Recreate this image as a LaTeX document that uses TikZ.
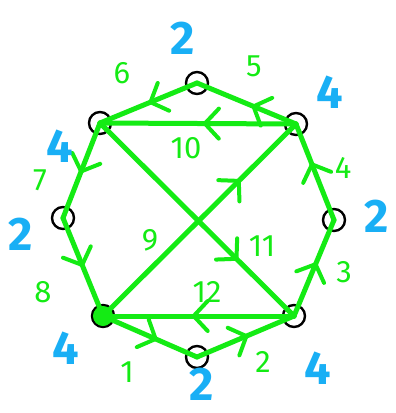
\documentclass[tikz,border=0pt]{standalone}
\usepackage{fontspec}
\setmainfont{Fira Sans}
\usetikzlibrary{decorations.markings}
\definecolor{pgreen}{RGB}{20,235,20}
\definecolor{pblue}{RGB}{25,175,245}
\tikzset{
  vtx/.style={circle,draw=black,line width=2.4pt,fill=white,minimum size=22pt,inner sep=0pt},
  blk/.style={line width=2.2pt,black!85},
  grn/.style={line width=5pt,pgreen,line cap=round,line join=round},
  midarr/.style={postaction={decorate},decoration={markings,
    mark=at position #1 with {\draw[pgreen,line width=4pt,line cap=round,line join=round]
      (-13pt,15pt) -- (1pt,0pt) -- (-13pt,-15pt);}}},
  glab/.style={text=pgreen,inner sep=0pt,font=\fontsize{31}{31}\selectfont},
  blab/.style={text=pblue,inner sep=0pt,font=\fontsize{47}{47}\selectfont\bfseries},
}
\begin{document}
\begin{tikzpicture}[x=1pt,y=-1pt]
\useasboundingbox (0,0) rectangle (396,413);
\fill[white] (0,0) rectangle (396,413);
% vertices
\coordinate (A) at (197,83);
\coordinate (B) at (296,124);
\coordinate (C) at (334,220);
\coordinate (D) at (294,316);
\coordinate (E) at (197,357);
\coordinate (F) at (103,316);
\coordinate (G) at (63,218);
\coordinate (H) at (100,123);
% black edges
\draw[blk] (A) -- (B) -- (C) -- (D) -- (E) -- (F) -- (G) -- (H) -- cycle;
\draw[blk] (H) -- (B);
\draw[blk] (H) -- (D);
\draw[blk] (F) -- (B);
\draw[blk] (F) -- (D);
% circles
\node[vtx] (nA) at (A) {};
\node[vtx] (nB) at (B) {};
\node[vtx] (nC) at (C) {};
\node[vtx] (nD) at (D) {};
\node[vtx] (nE) at (E) {};
\node[vtx,fill=pgreen] (nF) at (F) {};
\node[vtx] (nG) at (G) {};
\node[vtx] (nH) at (H) {};
% green circuit
\draw[grn,midarr=0.55] (nF.center) -- (nE.center);
\draw[grn,midarr=0.5] (nE.center) -- (nD.center);
\draw[grn,midarr=0.53] (nD.center) -- (nC.center);
\draw[grn,midarr=0.57] (nC.center) -- (nB.center);
\draw[grn,midarr=0.42] (nB.center) -- (nA.center);
\draw[grn,midarr=0.47] (nA.center) -- (nH.center);
\draw[grn,midarr=0.5] (nH.center) -- (nG.center);
\draw[grn,midarr=0.47] (nG.center) -- (nF.center);
\draw[grn,midarr=0.7] (nF.center) -- (nB.center);
\draw[grn,midarr=0.46] (nB.center) -- (nH.center);
\draw[grn,midarr=0.7] (nH.center) -- (nD.center);
\draw[grn,midarr=0.52] (nD.center) -- (nF.center);
\fill[pgreen] (F) circle (10pt);
% green labels
\node[glab] (l1) at (127,372) {1};
\node[glab] (l2) at (263,362) {2};
\node[glab] (l3) at (344,272) {3};
\node[glab] (l4) at (343,168) {4};
\node[glab] (l5) at (254,66) {5};
\node[glab] (l6) at (122,73) {6};
\node[glab] (l7) at (40,180) {7};
\node[glab] (l8) at (43,292) {8};
\node[glab] (l9) at (150,240) {9};
\node[glab] (l10) at (186,148) {10};
\node[glab] (l11) at (262,246) {11};
\node[glab] (l12) at (207,292) {12};
% blue labels
\node[blab] (dA) at (183,38) {2};
\node[blab] (dB) at (330,92) {4};
\node[blab] (dC) at (377,216) {2};
\node[blab] (dD) at (318,368) {4};
\node[blab] (dE) at (202,384) {2};
\node[blab] (dF) at (66,348) {4};
\node[blab] (dG) at (21,234) {2};
\node[blab] (dH) at (60,146) {4};
\end{tikzpicture}
\end{document}
